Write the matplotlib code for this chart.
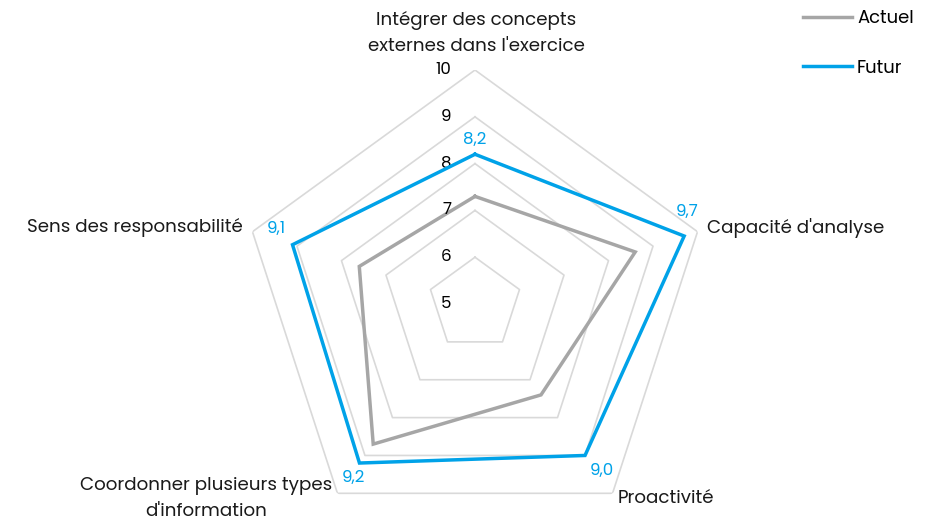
import numpy as np
import matplotlib
matplotlib.use("Agg")
import matplotlib.pyplot as plt
from matplotlib.lines import Line2D

# --- data ---
categories = [
    "Intégrer des concepts\nexternes dans l'exercice",
    "Capacité d'analyse",
    "Proactivité",
    "Coordonner plusieurs types\nd'information",
    "Sens des responsabilité",
]
actuel = [7.3, 8.6, 7.4, 8.7, 7.6]
futur = [8.2, 9.7, 9.0, 9.2, 9.1]
rings = [6, 7, 8, 9, 10]
tick_values = [5, 6, 7, 8, 9, 10]
series_names = ["Actuel", "Futur"]

# --- style ---
GRAY = "#a6a6a6"
BLUE = "#00a2e8"
GRID = "#d9d9d9"
plt.rcParams["font.family"] = ["Poppins", "Open Sans", "DejaVu Sans"]

R_MIN, R_MAX = 5, 10

fig = plt.figure(figsize=(9.33, 5.23), dpi=100)
ax = fig.add_axes([0.2583, -0.0287, 0.5016, 0.8948], polar=True)
ax.set_theta_offset(np.pi / 2)
ax.set_theta_direction(-1)
ax.set_ylim(R_MIN, R_MAX)
ax.grid(False)
ax.spines["polar"].set_visible(False)
ax.set_xticks([])
ax.set_yticks([])
ax.patch.set_visible(False)

n = len(categories)
angles = np.linspace(0, 2 * np.pi, n, endpoint=False)
closed = np.append(angles, angles[0])

for r in rings:
    ax.plot(closed, [r] * (n + 1), color=GRID, lw=1.2, zorder=1)

ax.plot(closed, actuel + actuel[:1], color=GRAY, lw=2.5, zorder=3,
        solid_joinstyle="miter")
ax.plot(closed, futur + futur[:1], color=BLUE, lw=2.5, zorder=4,
        solid_joinstyle="miter")

# radial tick labels, left of the top axis
for v in tick_values:
    ax.annotate(str(v), xy=(0, v), xytext=(-17, 0), textcoords="offset points",
                ha="right", va="center", fontsize=12, color="#000000")

# data labels for Futur
lbl_off = [(0, 10), (2, 17), (12, -11), (-4, -11), (-12, 11)]
for a, v, off in zip(angles, futur, lbl_off):
    ax.annotate(f"{v:.1f}".replace(".", ","), xy=(a, v), xytext=off,
                textcoords="offset points", ha="center", va="center",
                fontsize=12, color=BLUE)

# category labels
cat_place = [((1, 10), "center", "bottom"),
             ((7, 3), "left", "center"),
             ((4, -4), "left", "center"),
             ((-4, 12), "right", "top"),
             ((-7, 3), "right", "center")]
for a, name, (off, ha, va) in zip(angles, categories, cat_place):
    ax.annotate(name, xy=(a, R_MAX), xytext=off, textcoords="offset points",
                ha=ha, va=va, fontsize=13.2, multialignment="center",
                linespacing=1.62, color="#1a1a1a")

handles = [Line2D([0], [0], color=GRAY, lw=2.5),
           Line2D([0], [0], color=BLUE, lw=2.5)]
fig.legend(handles, series_names, loc="upper left",
           bbox_to_anchor=(0.843, 1.012), frameon=False, fontsize=13,
           handlelength=2.75, handletextpad=0.25, labelspacing=1.75)

fig.savefig("out.png", dpi=100)
